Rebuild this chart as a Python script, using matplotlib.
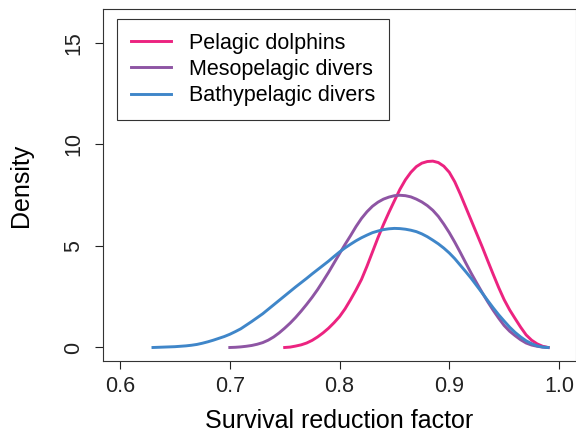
import numpy as np
import matplotlib.pyplot as plt

plt.rcParams['font.family'] = ['Liberation Sans', 'DejaVu Sans']

step = 0.005

pel_start = 0.75
y_pel = [0.00, 0.02, 0.07, 0.13, 0.22, 0.35, 0.52, 0.72, 0.95, 1.22, 1.52, 1.90, 2.35,
         2.83, 3.35, 4.00, 4.70, 5.40, 6.05, 6.65, 7.22, 7.78, 8.25, 8.62, 8.90, 9.07,
         9.15, 9.17, 9.10, 8.92, 8.62, 8.15, 7.55, 6.90, 6.25, 5.60, 4.95, 4.27, 3.60,
         2.95, 2.35, 1.85, 1.42, 1.00, 0.62, 0.36, 0.18, 0.06, 0.00]

meso_start = 0.70
y_meso = [0.00, 0.01, 0.03, 0.06, 0.10, 0.16, 0.24, 0.36, 0.52, 0.72, 0.95, 1.20, 1.48,
          1.79, 2.12, 2.47, 2.85, 3.27, 3.70, 4.16, 4.62, 5.07, 5.50, 5.95, 6.35, 6.68,
          6.95, 7.15, 7.30, 7.40, 7.47, 7.49, 7.47, 7.41, 7.30, 7.16, 6.98, 6.75, 6.45,
          6.07, 5.65, 5.18, 4.68, 4.16, 3.65, 3.17, 2.70, 2.25, 1.83, 1.44, 1.08, 0.80,
          0.58, 0.38, 0.22, 0.12, 0.06, 0.02, 0.00]

bathy_start = 0.63
y_bathy = [0.00, 0.01, 0.02, 0.03, 0.04, 0.06, 0.08, 0.11, 0.15, 0.21, 0.28, 0.36, 0.45,
           0.54, 0.65, 0.78, 0.92, 1.10, 1.28, 1.47, 1.66, 1.88, 2.10, 2.32, 2.54, 2.76,
           2.98, 3.19, 3.40, 3.62, 3.83, 4.04, 4.25, 4.48, 4.70, 4.90, 5.08, 5.25, 5.40,
           5.53, 5.65, 5.73, 5.80, 5.84, 5.86, 5.85, 5.82, 5.77, 5.70, 5.59, 5.45, 5.28,
           5.10, 4.89, 4.65, 4.37, 4.05, 3.73, 3.40, 3.04, 2.68, 2.31, 1.95, 1.61, 1.30,
           1.00, 0.74, 0.52, 0.33, 0.19, 0.08, 0.02, 0.00]

labels = ['Pelagic dolphins', 'Mesopelagic divers', 'Bathypelagic divers']
colors = ['#EC2380', '#8E55A4', '#3F86C9']
x_ticks = [0.6, 0.7, 0.8, 0.9, 1.0]
x_ticklabels = ['0.6', '0.7', '0.8', '0.9', '1.0']
y_ticks = [0, 5, 10, 15]

fig = plt.figure(figsize=(5.76, 4.37), dpi=100)
ax = fig.add_axes([102.5/576, 1 - 360.5/437, (575.5 - 102.5)/576, (360.5 - 9.3)/437])

for start, ys, lab, c in zip([pel_start, meso_start, bathy_start],
                             [y_pel, y_meso, y_bathy], labels, colors):
    xs = start + step * np.arange(len(ys))
    ax.plot(xs, ys, color=c, lw=2.1, label=lab)

ax.set_xlim(0.584, 1.015)
ax.set_ylim(-0.64, 16.64)
ax.set_xticks(x_ticks)
ax.set_xticklabels(x_ticklabels)
ax.set_yticks(y_ticks)
ax.set_yticklabels([str(v) for v in y_ticks], rotation=90, va='center')
ax.tick_params(direction='out', length=6, width=0.8, labelsize=15.5, colors='#222222')
ax.tick_params(axis='x', pad=5)
ax.tick_params(axis='y', pad=7)
for s in ax.spines.values():
    s.set_linewidth(0.8)
    s.set_color('#333333')
ax.spines['right'].set_color('#999999')

ax.set_xlabel('Survival reduction factor', fontsize=18, labelpad=9)
ax.set_ylabel('Density', fontsize=18, labelpad=22)

leg = ax.legend(loc='upper left', bbox_to_anchor=(14.5/473, 1 - 9.7/351.2), fontsize=15.5,
                frameon=True, fancybox=False, edgecolor='#333333', framealpha=1,
                handlelength=1.86, handletextpad=0.84, labelspacing=0.24,
                borderpad=0.64, borderaxespad=0)
leg.get_frame().set_linewidth(0.8)

fig.savefig('out.png', dpi=100)
